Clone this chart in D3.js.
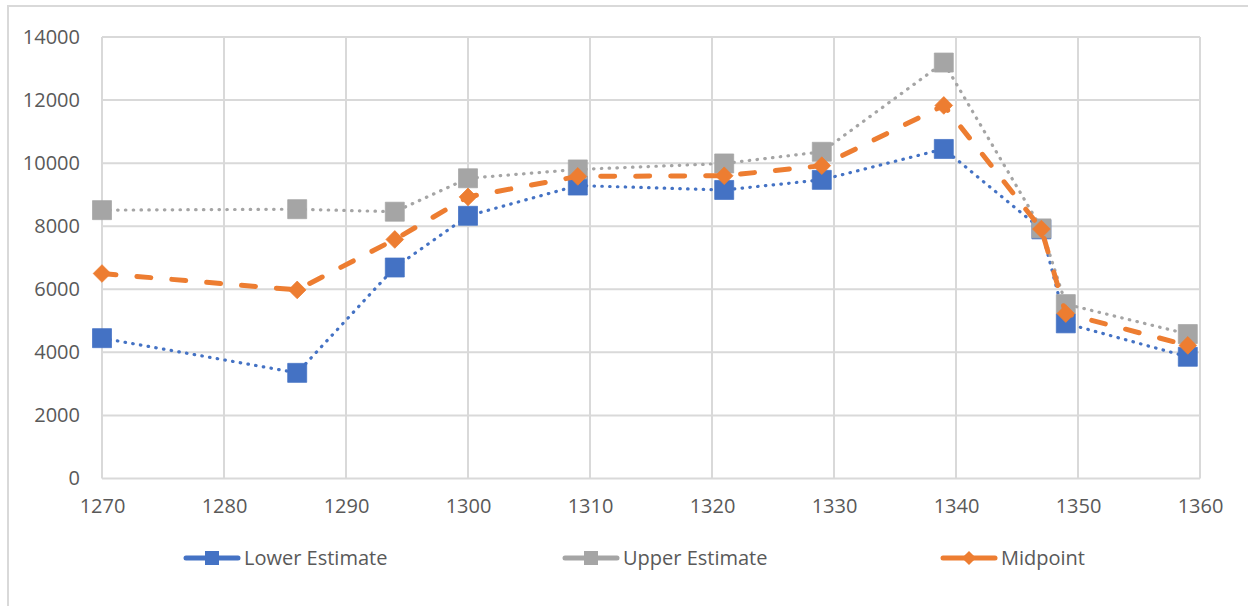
<!DOCTYPE html>
<html>
<head>
<meta charset="utf-8">
<script src="https://cdn.jsdelivr.net/npm/d3@7"></script>
<style>
  body { margin: 0; background: #fff; }
  text { font-family: "Open Sans", sans-serif; fill: #595959; }
</style>
</head>
<body>
<div class="chart"></div>
<script>
// data
var years = [1270, 1286, 1294, 1300, 1309, 1321, 1329, 1339, 1347, 1349, 1359];
var lowerEstimate = [4450, 3350, 6690, 8330, 9290, 9150, 9470, 10450, 7900, 4920, 3860];
var upperEstimate = [8510, 8540, 8460, 9520, 9800, 9990, 10360, 13190, 7930, 5530, 4580];
var midpoint = [6500, 5980, 7580, 8930, 9580, 9600, 9920, 11830, 7910, 5230, 4220];
var xTicks = [1270, 1280, 1290, 1300, 1310, 1320, 1330, 1340, 1350, 1360];
var yTicks = [0, 2000, 4000, 6000, 8000, 10000, 12000, 14000];

var svgWidth = 1248;
var svgHeight = 606;

var margin = { top: 37, right: 48, bottom: 127, left: 102 };
var width = 1200 - margin.left;
var height = 478.5 - margin.top;

var svg = d3.select(".chart")
  .append("svg")
  .attr("width", svgWidth)
  .attr("height", svgHeight);

// outer chart frame (only the top and left edges show)
svg.append("path")
  .attr("d", "M8,610 L8,6 L1250,6")
  .attr("fill", "none")
  .attr("stroke", "#d9d9d9")
  .attr("stroke-width", 2);

var chartGroup = svg.append("g")
  .attr("transform", `translate(${margin.left}, ${margin.top})`);

var x = d3.scaleLinear().domain([1270, 1360]).range([0, width]);
var y = d3.scaleLinear().domain([0, 14000]).range([height, 0]);

// gridlines
chartGroup.append("g")
  .selectAll("line")
  .data(yTicks)
  .enter()
  .append("line")
  .attr("x1", 0)
  .attr("x2", width)
  .attr("y1", d => y(d))
  .attr("y2", d => y(d))
  .attr("stroke", "#d9d9d9")
  .attr("stroke-width", 2);

chartGroup.append("g")
  .selectAll("line")
  .data(xTicks)
  .enter()
  .append("line")
  .attr("x1", d => x(d))
  .attr("x2", d => x(d))
  .attr("y1", 0)
  .attr("y2", height)
  .attr("stroke", "#d9d9d9")
  .attr("stroke-width", 2);

// axes (labels only, lines are the grid)
var leftAxis = d3.axisLeft(y).tickValues(yTicks).tickSize(0).tickPadding(22).tickFormat(d3.format("d"));
var bottomAxis = d3.axisBottom(x).tickValues(xTicks).tickSize(0).tickPadding(22).tickFormat(d3.format("d"));

var yAxisG = chartGroup.append("g").call(leftAxis);
var xAxisG = chartGroup.append("g").attr("transform", `translate(0, ${height})`).call(bottomAxis);
[yAxisG, xAxisG].forEach(function(g) {
  g.select(".domain").remove();
  g.selectAll("text")
    .attr("fill", "#595959")
    .style("font-family", "'Open Sans', sans-serif")
    .style("font-size", "20px");
});
xAxisG.selectAll("text").attr("dy", "0.6em");

var series = [
  { name: "Lower Estimate", values: lowerEstimate, color: "#4472c4", dash: "0.5,7.3", width: 3.2, marker: "square" },
  { name: "Upper Estimate", values: upperEstimate, color: "#a5a5a5", dash: "0.5,7.3", width: 3.2, marker: "square" },
  { name: "Midpoint", values: midpoint, color: "#ed7d31", dash: "14,21", width: 5, marker: "diamond" }
];

var line = d3.line()
  .x(d => x(d[0]))
  .y(d => y(d[1]));

var squareSym = d3.symbol().type(d3.symbolSquare).size(19 * 19);
var diamondSym = d3.symbol().type(d3.symbolSquare).size(12.5 * 12.5);

series.forEach(function(s) {
  var pts = years.map((yr, i) => [yr, s.values[i]]);
  var g = chartGroup.append("g");
  g.append("path")
    .datum(pts)
    .attr("d", line)
    .attr("fill", "none")
    .attr("stroke", s.color)
    .attr("stroke-width", s.width)
    .attr("stroke-linecap", "round")
    .attr("stroke-linejoin", "round")
    .attr("stroke-dasharray", s.dash);

  g.selectAll("path.marker")
    .data(pts)
    .enter()
    .append("path")
    .attr("class", "marker")
    .attr("d", s.marker === "square" ? squareSym : diamondSym)
    .attr("transform", d => `translate(${x(d[0])}, ${y(d[1])})` + (s.marker === "diamond" ? " rotate(45)" : ""))
    .attr("fill", s.color)
    .attr("stroke", s.color)
    .attr("stroke-width", 0.75);
});

// legend
var legendX = [184, 563, 941];
var legendY = 558;
var legend = svg.append("g");
series.forEach(function(s, i) {
  var lg = legend.append("g").attr("transform", `translate(${legendX[i]}, ${legendY})`);
  lg.append("line")
    .attr("x1", 2).attr("x2", 54)
    .attr("y1", 0).attr("y2", 0)
    .attr("stroke", s.color)
    .attr("stroke-width", 5)
    .attr("stroke-linecap", "round");
  lg.append("path")
    .attr("d", s.marker === "square" ? d3.symbol().type(d3.symbolSquare).size(14 * 14) : d3.symbol().type(d3.symbolSquare).size(10 * 10))
    .attr("transform", "translate(28, 0)" + (s.marker === "diamond" ? " rotate(45)" : ""))
    .attr("fill", s.color);
  lg.append("text")
    .attr("x", 60)
    .attr("y", 0)
    .attr("dy", "0.35em")
    .style("font-size", "20px")
    .text(s.name);
});
</script>
</body>
</html>
